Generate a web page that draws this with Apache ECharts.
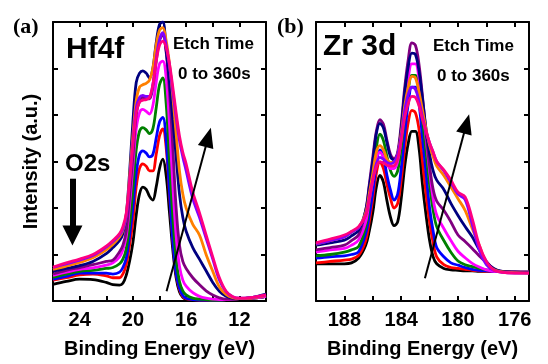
<!DOCTYPE html>
<html>
<head>
<meta charset="utf-8">
<script src="https://cdn.jsdelivr.net/npm/echarts@6.0.0/dist/echarts.min.js"></script>
<style>
  html, body { margin: 0; padding: 0; background: #fff; }
  #chart { width: 548px; height: 364px; }
</style>
</head>
<body>
<div id="chart"></div>
<script>
// etch time series, 0 -> 360 s
const seriesNames = ['0s', '40s', '80s', '120s', '160s', '200s', '240s', '280s', '320s', '360s'];
const seriesColors = ['#000000', '#ff0000', '#0000ff', '#008000', '#ff00ff', '#800080', '#000080', '#ff8000', '#8000ff', '#ff0080'];

// Hf4f binding energies (eV)
const hfEnergy = [26, 25, 24, 23, 22, 21.5, 21, 20.75, 20.5, 20.25, 20, 19.75, 19.5, 19.25, 19, 18.75, 18.5, 18.25, 18, 17.75, 17.5, 17.25, 17, 16.75, 16.5, 16.25, 16, 15.5, 15, 14.5, 14, 13.5, 13, 12.5, 12, 11, 10];
const hfBlack = [0.36, 0.42, 0.47, 0.46, 0.40, 0.35, 0.34, 0.38, 0.55, 0.85, 1.25, 1.85, 2.30, 2.45, 2.40, 2.25, 2.17, 2.45, 2.85, 3.05, 2.70, 1.90, 1.10, 0.50, 0.20, 0.08, 0.04, 0.03, 0.02, 0.02, 0.02, 0.02, 0.03, 0.04, 0.05, 0.06, 0.10];
const hfRed = [0.45, 0.50, 0.56, 0.58, 0.54, 0.50, 0.50, 0.58, 0.78, 1.20, 1.70, 2.45, 2.85, 2.95, 2.90, 2.80, 2.80, 3.15, 3.55, 3.70, 3.30, 2.30, 1.30, 0.60, 0.25, 0.10, 0.05, 0.03, 0.02, 0.02, 0.02, 0.02, 0.03, 0.04, 0.05, 0.06, 0.10];
const hfBlue = [0.47, 0.53, 0.60, 0.60, 0.60, 0.58, 0.62, 0.72, 0.92, 1.40, 2.00, 2.75, 3.15, 3.23, 3.18, 3.10, 3.15, 3.50, 3.85, 3.95, 3.45, 2.35, 1.30, 0.60, 0.28, 0.12, 0.06, 0.03, 0.02, 0.02, 0.02, 0.02, 0.03, 0.04, 0.05, 0.06, 0.10];
const hfGreen = [0.51, 0.58, 0.64, 0.66, 0.70, 0.72, 0.80, 0.90, 1.12, 1.65, 2.40, 3.25, 3.65, 3.73, 3.68, 3.60, 3.70, 4.15, 4.65, 4.80, 4.25, 3.00, 1.80, 0.90, 0.42, 0.22, 0.13, 0.06, 0.04, 0.03, 0.02, 0.02, 0.03, 0.04, 0.05, 0.06, 0.10];
const hfMagenta = [0.55, 0.62, 0.68, 0.71, 0.77, 0.82, 0.95, 1.10, 1.38, 2.05, 2.90, 3.70, 4.05, 4.12, 4.08, 4.02, 4.20, 4.70, 5.10, 5.16, 4.80, 3.80, 2.50, 1.40, 0.75, 0.45, 0.32, 0.18, 0.10, 0.06, 0.04, 0.03, 0.03, 0.04, 0.05, 0.06, 0.10];
const hfPurple = [0.58, 0.66, 0.72, 0.78, 0.85, 0.88, 1.06, 1.20, 1.50, 2.25, 3.10, 4.00, 4.30, 4.38, 4.35, 4.35, 4.60, 5.15, 5.60, 5.72, 5.35, 4.50, 3.30, 2.00, 1.20, 0.85, 0.70, 0.50, 0.35, 0.22, 0.13, 0.07, 0.04, 0.04, 0.05, 0.07, 0.12];
const hfNavy = [0.64, 0.70, 0.76, 0.85, 1.02, 1.15, 1.30, 1.45, 1.85, 2.75, 3.85, 4.70, 4.90, 4.95, 4.90, 4.80, 5.00, 5.55, 5.95, 6.00, 5.40, 4.70, 3.90, 3.10, 2.30, 1.80, 1.50, 1.15, 0.90, 0.65, 0.40, 0.21, 0.10, 0.06, 0.05, 0.08, 0.15];
const hfOrange = [0.68, 0.75, 0.83, 0.93, 1.10, 1.22, 1.38, 1.52, 1.85, 2.65, 3.55, 4.30, 4.60, 4.65, 4.68, 4.75, 5.00, 5.50, 5.82, 5.88, 5.60, 5.10, 4.40, 3.60, 2.80, 2.30, 2.00, 1.65, 1.42, 1.00, 0.64, 0.30, 0.14, 0.07, 0.05, 0.07, 0.12];
const hfViolet = [0.72, 0.80, 0.88, 0.98, 1.16, 1.28, 1.42, 1.55, 1.82, 2.55, 3.40, 4.15, 4.38, 4.42, 4.40, 4.40, 4.65, 5.20, 5.62, 5.77, 5.50, 5.05, 4.50, 3.95, 3.45, 3.10, 2.80, 2.20, 1.80, 1.35, 0.90, 0.45, 0.20, 0.09, 0.06, 0.08, 0.13];
const hfPink = [0.73, 0.82, 0.90, 1.00, 1.18, 1.30, 1.45, 1.60, 1.88, 2.55, 3.35, 4.05, 4.28, 4.32, 4.33, 4.38, 4.65, 5.15, 5.50, 5.59, 5.45, 5.10, 4.60, 4.05, 3.55, 3.20, 2.95, 2.34, 1.90, 1.42, 0.95, 0.50, 0.21, 0.09, 0.06, 0.08, 0.13];

// Zr 3d binding energies (eV)
const zrEnergy = [190, 189, 188, 187.5, 187, 186.5, 186.25, 186, 185.75, 185.5, 185.25, 185, 184.75, 184.5, 184.25, 184, 183.75, 183.5, 183.25, 183, 182.75, 182.5, 182.25, 182, 181.75, 181.5, 181, 180.5, 180, 179.5, 179, 178.5, 178, 177.5, 177, 176, 175];
const zrBlack = [0.80, 0.80, 0.80, 0.82, 0.92, 1.20, 1.50, 1.90, 2.45, 2.70, 2.55, 2.15, 1.80, 1.62, 1.70, 2.20, 2.90, 3.40, 3.65, 3.65, 3.30, 2.50, 1.85, 1.30, 0.95, 0.80, 0.70, 0.67, 0.66, 0.65, 0.65, 0.64, 0.64, 0.63, 0.63, 0.62, 0.62];
const zrRed = [0.82, 0.85, 0.88, 0.90, 0.98, 1.30, 1.70, 2.20, 2.75, 2.99, 2.85, 2.50, 2.20, 2.00, 2.10, 2.60, 3.30, 3.85, 4.10, 4.05, 3.70, 3.00, 2.30, 1.70, 1.25, 0.95, 0.78, 0.72, 0.70, 0.68, 0.66, 0.65, 0.64, 0.63, 0.63, 0.62, 0.62];
const zrBlue = [0.92, 0.95, 0.97, 1.00, 1.06, 1.45, 1.85, 2.35, 2.95, 3.25, 3.10, 2.70, 2.38, 2.17, 2.30, 2.85, 3.60, 4.25, 4.60, 4.60, 4.25, 3.50, 2.75, 2.00, 1.50, 1.15, 0.95, 0.82, 0.77, 0.72, 0.68, 0.66, 0.65, 0.64, 0.63, 0.62, 0.62];
const zrGreen = [0.97, 1.00, 1.05, 1.10, 1.17, 1.60, 2.10, 2.65, 3.30, 3.59, 3.45, 3.10, 2.80, 2.68, 2.80, 3.30, 4.00, 4.55, 4.85, 4.85, 4.50, 3.90, 3.20, 2.50, 1.95, 1.60, 1.30, 1.05, 0.86, 0.78, 0.74, 0.70, 0.67, 0.65, 0.63, 0.62, 0.62];
const zrMagenta = [1.05, 1.10, 1.13, 1.20, 1.31, 1.70, 2.15, 2.60, 3.05, 3.20, 3.10, 2.95, 2.85, 2.85, 3.00, 3.50, 4.20, 4.80, 5.10, 5.10, 4.80, 4.20, 3.50, 2.80, 2.20, 1.85, 1.56, 1.30, 1.07, 0.93, 0.81, 0.73, 0.67, 0.64, 0.63, 0.62, 0.62];
const zrPurple = [1.10, 1.15, 1.20, 1.30, 1.42, 1.95, 2.50, 3.10, 3.65, 3.90, 3.80, 3.45, 3.15, 3.06, 3.20, 3.80, 4.60, 5.20, 5.55, 5.50, 5.10, 4.40, 3.60, 2.90, 2.40, 2.15, 1.95, 1.70, 1.42, 1.28, 1.13, 0.97, 0.83, 0.70, 0.64, 0.62, 0.61];
const zrNavy = [1.20, 1.25, 1.31, 1.40, 1.52, 1.95, 2.45, 3.00, 3.60, 3.82, 3.72, 3.40, 3.10, 3.03, 3.15, 3.70, 4.50, 5.05, 5.33, 5.30, 4.95, 4.35, 3.70, 3.15, 2.80, 2.60, 2.40, 2.10, 1.84, 1.60, 1.38, 1.10, 0.85, 0.70, 0.64, 0.62, 0.61];
const zrOrange = [1.22, 1.30, 1.38, 1.48, 1.58, 1.90, 2.30, 2.75, 3.20, 3.34, 3.25, 3.05, 2.98, 2.99, 3.15, 3.60, 4.20, 4.60, 4.83, 4.80, 4.50, 4.10, 3.70, 3.35, 3.10, 2.90, 2.70, 2.45, 2.20, 1.95, 1.56, 1.20, 0.81, 0.68, 0.63, 0.61, 0.60];
const zrViolet = [1.23, 1.30, 1.38, 1.48, 1.58, 1.85, 2.20, 2.60, 2.95, 3.09, 3.05, 2.98, 2.95, 2.99, 3.15, 3.55, 4.10, 4.45, 4.60, 4.55, 4.30, 3.95, 3.65, 3.40, 3.20, 3.00, 2.80, 2.55, 2.30, 2.18, 1.65, 1.10, 0.78, 0.66, 0.62, 0.60, 0.60];
const zrPink = [1.25, 1.33, 1.42, 1.50, 1.60, 1.84, 2.20, 2.60, 2.88, 2.99, 2.97, 2.92, 2.90, 2.91, 3.05, 3.45, 3.95, 4.25, 4.40, 4.38, 4.20, 3.90, 3.65, 3.40, 3.20, 3.00, 2.82, 2.60, 2.34, 2.24, 1.77, 1.20, 0.85, 0.67, 0.62, 0.60, 0.60];

const hfTicks = [12, 14, 16, 18, 20, 22, 24];
const hfLabels = [12, 16, 20, 24];
const zrTicks = [176, 178, 180, 182, 184, 186, 188];
const zrLabels = [176, 180, 184, 188];

const hfSets = [hfBlack, hfRed, hfBlue, hfGreen, hfMagenta, hfPurple, hfNavy, hfOrange, hfViolet, hfPink];
const zrSets = [zrBlack, zrRed, zrBlue, zrGreen, zrMagenta, zrPurple, zrNavy, zrOrange, zrViolet, zrPink];

const FONT = 'Liberation Sans, Arial, sans-serif';

var myChart = echarts.init(document.getElementById('chart'), null, { renderer: 'canvas' });

function xAxisOf(grid, min, max, ticks, labels, position, withName) {
  return {
    type: 'value', gridIndex: grid, min: min, max: max, inverse: true, position: position,
    axisLine: { show: true, onZero: false, lineStyle: { color: '#000', width: 2 } },
    axisTick: { show: true, inside: true, length: 5, customValues: ticks, lineStyle: { color: '#000', width: 2 } },
    axisLabel: {
      show: withName, customValues: labels, margin: 9,
      color: '#000', fontSize: 20, fontWeight: 'bold', fontFamily: FONT
    },
    splitLine: { show: false },
    name: withName ? 'Binding Energy (eV)' : '',
    nameLocation: 'middle', nameGap: 38,
    nameTextStyle: { color: '#000', fontSize: 20, fontWeight: 'bold', fontFamily: FONT }
  };
}

function yAxisOf(grid, position, name) {
  return {
    type: 'value', gridIndex: grid, min: 0, max: 6, interval: 1, position: position,
    axisLine: { show: true, onZero: false, lineStyle: { color: '#000', width: 2 } },
    axisTick: { show: true, inside: true, length: 5, lineStyle: { color: '#000', width: 2 } },
    axisLabel: { show: false },
    splitLine: { show: false },
    name: name, nameLocation: 'middle', nameGap: 12,
    nameTextStyle: { color: '#000', fontSize: 20, fontWeight: 'bold', fontFamily: FONT }
  };
}

// arrow helper (markLine in data coords)
function arrow(from, to, width, head) {
  return [
    { coord: from, symbol: 'none', lineStyle: { color: '#000', width: width, type: 'solid' } },
    { coord: to, symbol: 'triangle', symbolSize: head }
  ];
}

function buildSeries(energy, sets, xi, yi, arrows) {
  return sets.map((vals, i) => {
    const s = {
      name: seriesNames[i],
      type: 'line',
      xAxisIndex: xi,
      yAxisIndex: yi,
      data: energy.map((e, k) => [e, vals[k]]),
      smooth: 0.35,
      showSymbol: false,
      clip: true,
      lineStyle: { color: seriesColors[i], width: 2.8 },
      itemStyle: { color: seriesColors[i] },
      silent: true
    };
    if (i === sets.length - 1) {
      s.markLine = {
        silent: true, animation: false,
        label: { show: false },
        itemStyle: { color: '#000' },
        data: arrows
      };
    }
    return s;
  });
}

const textStyle = (size) => ({ fill: '#000', fontSize: size, fontWeight: 'bold', fontFamily: FONT });

myChart.setOption({
  animation: false,
  backgroundColor: '#fff',
  grid: [
    { left: 53, top: 22, width: 213, height: 281 },
    { left: 316, top: 22, width: 213, height: 281 }
  ],
  xAxis: [
    xAxisOf(0, 10, 26, hfTicks, hfLabels, 'bottom', true),
    xAxisOf(0, 10, 26, hfTicks, hfLabels, 'top', false),
    xAxisOf(1, 175, 190, zrTicks, zrLabels, 'bottom', true),
    xAxisOf(1, 175, 190, zrTicks, zrLabels, 'top', false)
  ],
  yAxis: [
    yAxisOf(0, 'left', 'Intensity (a.u.)'),
    yAxisOf(0, 'right', ''),
    yAxisOf(1, 'left', ''),
    yAxisOf(1, 'right', '')
  ],
  series: [
    ...buildSeries(hfEnergy, hfSets, 0, 0, [
      arrow([17.47, 0.21], [14.34, 3.52], 2, [16, 20]),
      arrow([24.54, 2.63], [24.54, 1.41], 6, [20, 20])
    ]),
    ...buildSeries(zrEnergy, zrSets, 2, 2, [
      arrow([182.33, 0.49], [179.4, 3.81], 2, [16, 20])
    ])
  ],
  graphic: [
    { type: 'text', left: 13, top: 16, style: { text: '(a)', fill: '#000', fontSize: 22, fontWeight: 'bold', fontFamily: 'Liberation Serif, Times New Roman, serif' } },
    { type: 'text', left: 277, top: 16, style: { text: '(b)', fill: '#000', fontSize: 22, fontWeight: 'bold', fontFamily: 'Liberation Serif, Times New Roman, serif' } },
    { type: 'text', x: 66, y: 50, style: Object.assign({ text: 'Hf4f', verticalAlign: 'middle' }, textStyle(30)) },
    { type: 'text', x: 323, y: 47, style: Object.assign({ text: 'Zr 3d', verticalAlign: 'middle' }, textStyle(30)) },
    { type: 'text', x: 173, y: 44, style: Object.assign({ text: 'Etch Time', verticalAlign: 'middle' }, textStyle(17)) },
    { type: 'text', x: 178, y: 74, style: Object.assign({ text: '0 to 360s', verticalAlign: 'middle' }, textStyle(17)) },
    { type: 'text', x: 433, y: 46, style: Object.assign({ text: 'Etch Time', verticalAlign: 'middle' }, textStyle(17)) },
    { type: 'text', x: 437, y: 76, style: Object.assign({ text: '0 to 360s', verticalAlign: 'middle' }, textStyle(17)) },
    { type: 'text', x: 65, y: 164, style: Object.assign({ text: 'O2s', verticalAlign: 'middle' }, textStyle(24)) }
  ]
});
</script>
</body>
</html>
